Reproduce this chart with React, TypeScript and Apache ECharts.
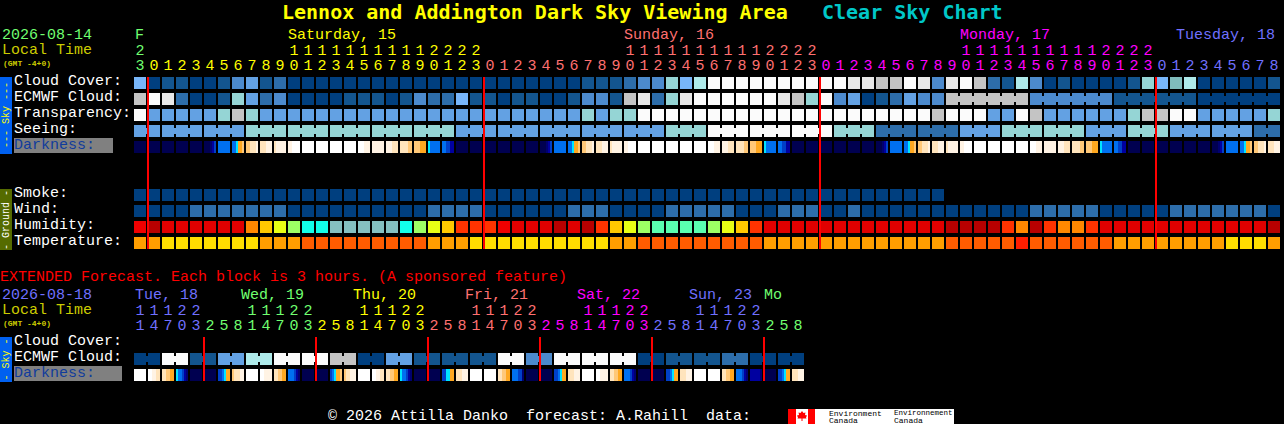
import React, { useEffect, useRef } from "react";
import * as echarts from "echarts";

const FONT = '"Liberation Mono", monospace';
const TITLE_FONT = '"DejaVu Sans Mono", monospace';

const WHITE = "#ffffff";
const GREEN = "#70ff70";
const YELLOW = "#ffff00";
const PINK = "#ff7070";
const MAGENTA = "#ff00ff";
const BLUE = "#7070ff";
const OLIVE = "#cccc00";

const rowNames = ["Cloud Cover:", "ECMWF Cloud:", "Transparency:", "Seeing:", "Darkness:", "", "", "Smoke:", "Wind:", "Humidity:", "Temperature:"];
const extRowNames = ["Cloud Cover:", "ECMWF Cloud:", "Darkness:"];

const topHours = [23, 0, 1, 2, 3, 4, 5, 6, 7, 8, 9, 10, 11, 12, 13, 14, 15, 16, 17, 18, 19, 20, 21, 22, 23, 0, 1, 2, 3, 4, 5, 6, 7, 8, 9, 10, 11, 12, 13, 14, 15, 16, 17, 18, 19, 20, 21, 22, 23, 0, 1, 2, 3, 4, 5, 6, 7, 8, 9, 10, 11, 12, 13, 14, 15, 16, 17, 18, 19, 20, 21, 22, 23, 0, 1, 2, 3, 4, 5, 6, 7, 8];
const extHours = [11, 14, 17, 20, 23, 2, 5, 8, 11, 14, 17, 20, 23, 2, 5, 8, 11, 14, 17, 20, 23, 2, 5, 8, 11, 14, 17, 20, 23, 2, 5, 8, 11, 14, 17, 20, 23, 2, 5, 8, 11, 14, 17, 20, 23, 2, 5, 8];

const cloudColors: Record<number, string> = {
  0: "#003f7f", 1: "#13558f", 2: "#2d6daa", 3: "#4c8acd", 4: "#63a1e3", 5: "#78b6fa",
  5.5: "#80bdbd", 6: "#95d5d5", 7: "#aeeaea", 8: "#c4c4c4", 9: "#e8e8e8", 10: "#fbfbfb",
};
const humidityColors = ["#b80000", "#e00000", "#f00000", "#ff3300", "#ff8800", "#ffc800", "#e8ff15", "#9dff64", "#5affb0", "#12ffea", "#85c0c0"];
const temperatureColors = ["#ff1e00", "#ff5c00", "#ff9e00", "#ffdd00"];
const darknessColors = ["#000050", "#000070", "#0000a0", "#0040c8", "#0070f0", "#00e5ff", "#ffa820", "#ffc878", "#ffe4bc", "#fff3e4", "#ffffff"];

const cloudCover = [5, 0, 1, 1, 0, 0, 1, 3, 4, 1, 2, 0, 0, 0, 0, 0, 0, 0, 0, 0, 0, 0, 0, 0, 0, 0, 0, 0, 0, 0, 0, 0, 1, 1, 1, 2, 3, 3, 6, 5, 7, 10, 10, 10, 10, 10, 10, 10, 10, 10, 10, 9, 9, 8, 8, 10, 9, 3, 9, 10, 8, 2, 1, 7, 3, 0, 1, 0, 0, 0, 0, 1, 6, 5, 5.5, 7, 0, 0, 0, 0, 0, 1];
const ecmwf = [8, 10, 9, 2, 0, 0, 1, 6, 4, 2, 3, 0, 0, 0, 0, 1, 1, 1, 0, 1, 3, 2, 2, 5, 1, 1, 0, 1, 1, 0, 0, 1, 3, 3, 1, 8, 9, 2, 6, 9, 10, 10, 10, 10, 10, 10, 9, 8, 6, 10, 3, 4, 0, 1, 2, 4, 3, 3, 8, 8, 8, 8, 8, 8, 3, 3, 3, 3, 3, 3, 1, 1, 1, 1, 1, 1, 0, 0, 0, 0, 0, 0];
const ecmwfGroups = [1, 1, 1, 1, 1, 1, 1, 1, 1, 1, 1, 1, 1, 1, 1, 1, 1, 1, 1, 1, 1, 1, 1, 1, 1, 1, 1, 1, 1, 1, 1, 1, 1, 1, 1, 1, 1, 1, 1, 1, 1, 1, 1, 1, 1, 1, 1, 1, 1, 1, 1, 1, 1, 1, 1, 1, 1, 1, 6, 6, 6, 6];
const transparency = [10, 4, 4, 4, 4, 4, 6, 8, 6, 4, 4, 4, 4, 4, 4, 4, 4, 4, 4, 4, 4, 4, 4, 4, 4, 4, 4, 4, 4, 4, 4, 4, 6, 4, 6, 6, 10, 10, 10, 10, 10, 10, 10, 10, 10, 10, 10, 10, 10, 10, 10, 10, 10, 10, 10, 10, 10, 8, 10, 10, 10, 4, 4, 10, 8, 4, 4, 4, 4, 4, 4, 6, 8, 8, 10, 10, 4, 4, 4, 4, 4, 6];
const seeingBlocks = [4, 4, 4, 6, 6, 6, 6, 6, 4, 4, 4, 4, 4, 6, 10, 10, 10, 6, 2, 2, 4, 6, 6, 4, 6, 4, 4, 2];
const seeingGroups = [2, 3, 3, 3, 3, 3, 3, 3, 3, 3, 3, 3, 3, 3, 3, 3, 3, 3, 3, 3, 3, 3, 3, 3, 3, 3, 3, 2];
const darkness = ["0", "0", "0", "0", "0", "000123", "4", "445667", "778889", "888999", "899999", "99aaaa", "a", "a", "a", "a", "aaa999", "9", "999888", "888877", "777666", "544444", "443322", "0", "0", "0", "0", "0", "0", "000123", "4", "445667", "778889", "888999", "899999", "99aaaa", "a", "a", "a", "a", "a", "aaa999", "999888", "888877", "777666", "544444", "443322", "0", "0", "0", "0", "0", "0", "000123", "4", "445667", "778889", "888999", "899999", "99aaaa", "a", "a", "a", "a", "aaa999", "9", "999888", "888877", "777666", "544444", "443322", "0", "0", "0", "0", "0", "0", "000123", "4", "445667", "778889", "888999"];
const smoke = [0, 0, 0, 0, 0, 0, 0, 0, 0, 0, 0, 0, 0, 0, 0, 0, 0, 0, 0, 0, 0, 0, 0, 0, 0, 0, 0, 0, 0, 0, 0, 0, 0, 0, 0, 0, 0, 0, 0, 0, 0, 0, 0, 0, 0, 0, 0, 0, 0, 0, 0, 0, 0, 0, 0, 0, 0, 0];
const wind = [0, 0, 0, 0, 2, 2, 2, 2, 2, 2, 2, 0, 0, 0, 0, 0, 0, 0, 0, 0, 0, 2, 2, 2, 2, 0, 0, 0, 0, 0, 0, 2, 2, 2, 0, 0, 0, 0, 2, 2, 2, 2, 2, 0, 0, 0, 2, 2, 2, 0, 0, 2, 0, 0, 0, 0, 0, 0, 0, 0, 0, 0, 0, 0, 2, 2, 2, 2, 2, 0, 0, 0, 0, 0, 2, 2, 2, 2, 2, 2, 2, 0];
const humidity = [2, 0, 1, 1, 1, 1, 1, 1, 4, 5, 6, 7, 9, 9, 10, 10, 10, 10, 10, 9, 7, 6, 5, 3, 3, 3, 2, 1, 1, 1, 0, 1, 0, 3, 5, 6, 7, 8, 8, 8, 8, 7, 6, 5, 3, 1, 1, 1, 1, 1, 1, 1, 1, 1, 1, 1, 1, 1, 0, 0, 0, 0, 3, 4, 0, 3, 4, 4, 3, 1, 1, 1, 1, 1, 1, 1, 1, 1, 1, 1, 1, 0];
const temperature = [2, 2, 3, 3, 3, 3, 3, 3, 3, 2, 2, 2, 1, 1, 1, 1, 1, 1, 1, 1, 1, 2, 2, 2, 3, 3, 3, 3, 3, 3, 3, 3, 3, 3, 2, 2, 1, 1, 1, 1, 1, 1, 1, 1, 1, 2, 2, 2, 2, 2, 2, 2, 2, 2, 2, 2, 2, 2, 1, 1, 1, 1, 1, 0, 1, 1, 1, 1, 1, 1, 2, 2, 2, 2, 2, 2, 2, 2, 3, 3, 3, 2];

const extCloudBlocks = [0, 10, 1, 4, 7, 10, 10, 8, 0, 4, 1, 1, 1, 10, 3, 10, 10, 10, 0, 1, 1, 2, 0, 0];
const extGroups = [2, 2, 2, 2, 2, 2, 2, 2, 2, 2, 2, 2, 2, 2, 2, 2, 2, 2, 2, 2, 2, 2, 2, 2];
const extDarkness = ["a", "aa9988", "887766", "544321", "0", "0", "334566", "788899", "a", "aa9999", "887766", "444321", "0", "0", "345667", "788999", "a", "aa9988", "887766", "544321", "0", "0", "335566", "888999", "a", "a", "887766", "444331", "0", "0", "334566", "888999", "a", "aa9999", "887766", "444321", "0", "0", "334566", "888999", "a", "a", "887766", "444321", "222221", "0", "334566", "888999"];

// day colour of every hour column
const topDayLengths = [1, 24, 24, 24, 9];
const topDayColors = [GREEN, YELLOW, PINK, MAGENTA, BLUE];
const extDayLengths = [5, 8, 8, 8, 8, 8, 3];
const extDayColors = [BLUE, GREEN, YELLOW, PINK, MAGENTA, BLUE, GREEN];

const colorsByColumn = (lengths: number[], colors: string[]) =>
  lengths.flatMap((n, i) => Array.from({ length: n }, () => colors[i]));
const expand = (blocks: number[], sizes: number[]) =>
  blocks.flatMap((v, i) => Array.from({ length: sizes[i] }, () => v));
const linksOf = (sizes: number[]) =>
  sizes.flatMap((n) => Array.from({ length: n }, (_, k) => k < n - 1));

function cellSeries(
  name: string, xAxisIndex: number, yAxisIndex: number, row: number, count: number,
  fillOf: (i: number) => any, linked?: boolean[],
) {
  return {
    type: "custom", name, xAxisIndex, yAxisIndex, coordinateSystem: "cartesian2d", silent: true, clip: false,
    encode: { x: 0, y: 1 },
    data: Array.from({ length: count }, (_, i) => [i, row]),
    renderItem(params: any, api: any) {
      const c = api.coord([api.value(0), api.value(1)]);
      const fill = fillOf(params.dataIndex);
      const children: any[] = [{ type: "rect", shape: { x: c[0] - 6, y: c[1] - 6, width: 12, height: 12 }, style: { fill } }];
      if (linked && linked[params.dataIndex]) {
        children.push({ type: "rect", shape: { x: c[0] + 6, y: c[1] - 3, width: 2, height: 6 }, style: { fill } });
      }
      return { type: "group", children };
    },
  };
}

function bandFill(code: string) {
  const cols = code.split("").map((ch) => darknessColors[parseInt(ch, 16)]);
  if (cols.length === 1) return cols[0];
  const stops = cols.flatMap((color, i) => [
    { offset: i / cols.length, color },
    { offset: (i + 1) / cols.length, color },
  ]);
  return new echarts.graphic.LinearGradient(0, 0, 1, 0, stops);
}

function midnightSeries(hours: number[], xAxisIndex: number, yAxisIndex: number, lastRow: number) {
  const columns = hours.map((h, i) => (i > 0 && h < hours[i - 1] ? i : -1)).filter((i) => i >= 0);
  return {
    type: "custom", name: "Midnight", xAxisIndex, yAxisIndex, coordinateSystem: "cartesian2d", silent: true, clip: false,
    encode: { x: 0 },
    data: columns.map((c) => [c]),
    z: 5,
    renderItem(_p: any, api: any) {
      const x = api.coord([api.value(0), 0])[0] - 7;
      const y0 = api.coord([0, 0])[1] - 6;
      const y1 = api.coord([0, lastRow])[1] + 6;
      return { type: "rect", shape: { x, y: y0, width: 2, height: y1 - y0 }, style: { fill: "#ff0000" } };
    },
  };
}

const txt = (x: number, baseline: number, text: string, fill: string, size = 15, bold = false, lineHeight = 13) => ({
  type: "text", x, y: baseline - 0.267 * size,
  style: { text, fill, font: `${bold ? "bold " : ""}${size}px ${FONT}`, align: "left", verticalAlign: "middle", lineHeight },
  silent: true,
});
const rect = (x: number, y: number, width: number, height: number, fill: string) => ({
  type: "rect", shape: { x, y, width, height }, style: { fill }, silent: true,
});
const vtxt = (x: number, y: number, text: string, fill: string) => ({
  type: "text", x, y, rotation: Math.PI / 2,
  style: { text, fill, font: `10px ${FONT}`, align: "center", verticalAlign: "middle" },
  silent: true,
});

function xAxes(hours: number[], colors: string[], gridIndex: number) {
  const base = {
    gridIndex, type: "category", position: "top",
    axisLine: { show: false }, axisTick: { show: false }, splitLine: { show: false },
  };
  const label = (margin: number) => ({
    interval: 0, margin, fontFamily: FONT, fontSize: 15, lineHeight: 13, hideOverlap: false,
    color: (_v: any, i: number) => colors[i],
  });
  return [
    { ...base, offset: 0, data: hours.map((h) => String(h % 10)), axisLabel: label(2.5) },
    { ...base, offset: 15, data: hours.map((h) => (h >= 10 ? String(Math.floor(h / 10)) : "")), axisLabel: label(2.5) },
  ];
}

function yAxis(names: string[], gridIndex: number, darkWidth: number) {
  return {
    gridIndex, type: "category", inverse: true, data: names,
    axisLine: { show: false }, axisTick: { show: false }, splitLine: { show: false },
    axisLabel: {
      interval: 0, align: "left", margin: 119, color: WHITE, fontFamily: FONT, fontSize: 15,
      padding: [0, 0, 3, 0],
      formatter: (v: string) => (v === "Darkness:" ? `{dark|${v}}` : v),
      rich: { dark: { backgroundColor: "#808080", color: "#103c9c", width: darkWidth, height: 15, fontFamily: FONT, fontSize: 15 } },
    },
  };
}

export default function App() {
  const ref = useRef<HTMLDivElement>(null);
  useEffect(() => {
    document.body.style.margin = "0";
    document.body.style.background = "#000";
    const chart = echarts.init(ref.current!, undefined, { renderer: "svg" });
    const pal = (values: number[], colors: any) => (i: number) => colors[values[i]];
    const seeing = expand(seeingBlocks, seeingGroups);
    const extCloud = expand(extCloudBlocks, extGroups);

    chart.setOption({
      animation: false,
      backgroundColor: "#000000",
      title: [
        { text: "Lennox and Addington Dark Sky Viewing Area", left: 282, top: 2, padding: 0, textStyle: { color: "#ffff00", fontFamily: TITLE_FONT, fontSize: 20, fontWeight: "bold" } },
        { text: "Clear Sky Chart", left: 822, top: 2, padding: 0, textStyle: { color: "#00c8c8", fontFamily: TITLE_FONT, fontSize: 20, fontWeight: "bold" } },
      ],
      grid: [
        { left: 133, top: 75, width: 1148, height: 176, containLabel: false },
        { left: 133, top: 335, width: 672, height: 48, containLabel: false },
      ],
      xAxis: [
        ...xAxes(topHours, colorsByColumn(topDayLengths, topDayColors), 0),
        ...xAxes(extHours, colorsByColumn(extDayLengths, extDayColors), 1),
      ],
      yAxis: [yAxis(rowNames, 0, 99), yAxis(extRowNames, 1, 108)],
      series: [
        cellSeries("Cloud Cover", 0, 0, 0, cloudCover.length, pal(cloudCover, cloudColors)),
        cellSeries("ECMWF Cloud", 0, 0, 1, ecmwf.length, pal(ecmwf, cloudColors), linksOf(ecmwfGroups)),
        cellSeries("Transparency", 0, 0, 2, transparency.length, pal(transparency, cloudColors)),
        cellSeries("Seeing", 0, 0, 3, seeing.length, pal(seeing, cloudColors), linksOf(seeingGroups)),
        cellSeries("Darkness", 0, 0, 4, darkness.length, (i) => bandFill(darkness[i])),
        cellSeries("Smoke", 0, 0, 7, smoke.length, pal(smoke, cloudColors)),
        cellSeries("Wind", 0, 0, 8, wind.length, pal(wind, cloudColors)),
        cellSeries("Humidity", 0, 0, 9, humidity.length, pal(humidity, humidityColors)),
        cellSeries("Temperature", 0, 0, 10, temperature.length, pal(temperature, temperatureColors)),
        midnightSeries(topHours, 0, 0, 10),
        cellSeries("Extended ECMWF Cloud", 2, 1, 1, extCloud.length, pal(extCloud, cloudColors), linksOf(extGroups)),
        cellSeries("Extended Darkness", 2, 1, 2, extDarkness.length, (i) => bandFill(extDarkness[i])),
        midnightSeries(extHours, 2, 1, 2),
      ],
      graphic: {
        elements: [
          txt(2, 40, "2026-08-14", GREEN),
          txt(2, 55, "Local Time", OLIVE),
          txt(3, 65.5, "(GMT -4+0)", OLIVE, 8, true, 6),
          txt(135, 40, "F", GREEN),
          txt(288, 40, "Saturday, 15", YELLOW),
          txt(624, 40, "Sunday, 16", PINK),
          txt(960, 40, "Monday, 17", MAGENTA),
          txt(1176, 40, "Tuesday, 18", BLUE),
          rect(0, 77, 12, 77, "#0060f0"),
          vtxt(6, 115, "--- Sky ---", "#ffff00"),
          rect(0, 189, 12, 61, "#556b00"),
          vtxt(6, 220, "- Ground -", WHITE),
          txt(0, 282, "EXTENDED Forecast. Each block is 3 hours. (A sponsored feature)", "#ff0000"),
          txt(2, 300, "2026-08-18", BLUE),
          txt(2, 315, "Local Time", OLIVE),
          txt(3, 325.5, "(GMT -4+0)", OLIVE, 8, true, 6),
          txt(135, 300, "Tue, 18", BLUE),
          txt(241, 300, "Wed, 19", GREEN),
          txt(353, 300, "Thu, 20", YELLOW),
          txt(465, 300, "Fri, 21", PINK),
          txt(577, 300, "Sat, 22", MAGENTA),
          txt(689, 300, "Sun, 23", BLUE),
          txt(764, 300, "Mo", GREEN),
          rect(0, 337, 12, 45, "#0060f0"),
          vtxt(6, 359.5, "- Sky -", "#ffff00"),
          txt(328, 421, "\u00a9 2026 Attilla Danko  forecast: A.Rahill  data:", WHITE),
          rect(788, 409, 166, 15, "#ffffff"),
          rect(788, 409, 8, 15, "#ff0000"),
          rect(808, 409, 7, 15, "#ff0000"),
          {
            type: "polygon", silent: true,
            shape: { points: [[802, 411], [803.5, 413], [805.5, 412.5], [805, 415], [807, 415.5], [806, 417.5], [806.5, 418.5], [802.5, 418.5], [802.5, 421], [801.5, 421], [801.5, 418.5], [797.5, 418.5], [798, 417.5], [797, 415.5], [799, 415], [798.5, 412.5], [800.5, 413]] },
            style: { fill: "#ff0000" },
          },
          txt(829, 415.5, "Environment", "#000000", 8, false, 6),
          txt(829, 423, "Canada", "#000000", 8, false, 6),
          txt(894, 415.5, "Environnement", "#000000", 7.5, false, 6),
          txt(894, 423, "Canada", "#000000", 8, false, 6),
        ],
      },
    });
    return () => chart.dispose();
  }, []);
  return <div ref={ref} style={{ width: 1284, height: 424 }} />;
}
